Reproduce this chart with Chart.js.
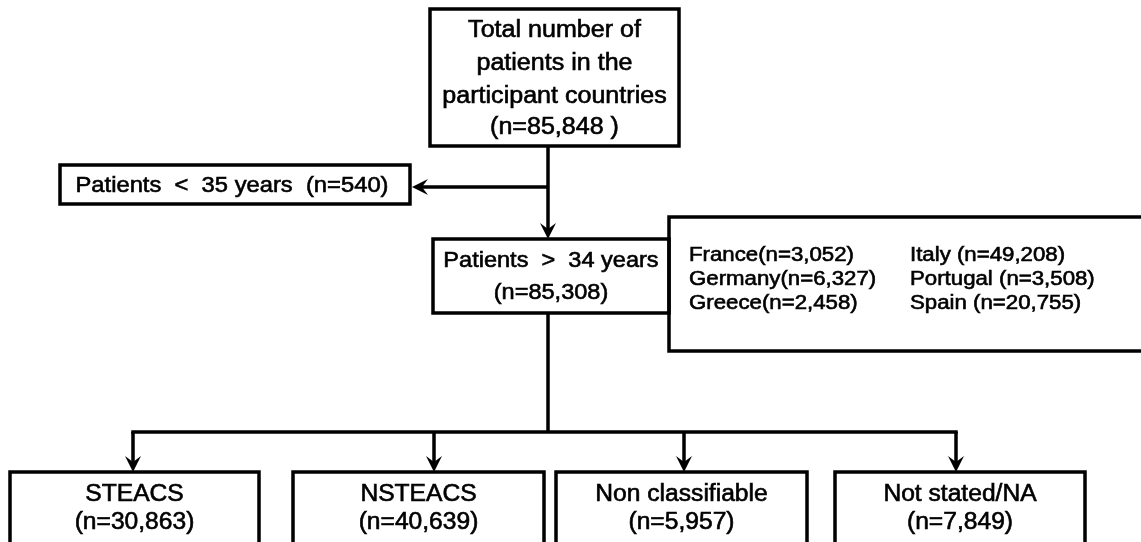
<!DOCTYPE html>
<html>
<head>
<meta charset="utf-8">
<script src="https://cdn.jsdelivr.net/npm/chart.js@4"></script>
<style>
  html, body { margin:0; padding:0; background:#fff; }
  #wrap { width:1141px; height:542px; }
</style>
</head>
<body>
<div id="wrap"><canvas id="flow"></canvas></div>
<script>
/* ---- data ---- */
const totalLabel   = ['Total number of', 'patients in the', 'participant countries'];
const totalN       = 85848;
const excludedN    = 540;
const includedN    = 85308;
const countries    = ['France', 'Germany', 'Greece', 'Italy', 'Portugal', 'Spain'];
const countryN     = [3052, 6327, 2458, 49208, 3508, 20755];
const groups       = ['STEACS', 'NSTEACS', 'Non classifiable', 'Not stated/NA'];
const groupN       = [30863, 40639, 5957, 7849];

/* ---- layout (in axis units, 1 unit = 1 px) ---- */
const topBox   = { x0:430, x1:679, y0:9,   y1:146 };
const exclBox  = { x0:60,  x1:410, y0:165, y1:204 };
const inclBox  = { x0:433, x1:669, y0:239, y1:313 };
const ctryBox  = { x0:669, x1:1150, y0:217, y1:351 };
const groupX   = [[10, 259], [293, 544], [556, 807], [835, 1085]];
const groupDrop = [133, 434, 684, 956];
const groupTop = 472, groupBottom = 570;
const stemX = 548, branchY = 187, splitY = 432;

const fmt = n => n.toLocaleString('en-US');
const FONT = '"Liberation Sans", Arial, sans-serif';

const flowPlugin = {
  id: 'flow',
  afterDraw(chart) {
    const { ctx, scales: { x, y } } = chart;
    const px = v => x.getPixelForValue(v), py = v => y.getPixelForValue(v);
    ctx.save();
    ctx.strokeStyle = '#000'; ctx.fillStyle = '#000';
    ctx.lineWidth = 3.5; ctx.lineCap = 'butt'; ctx.lineJoin = 'miter';

    const box = b => { ctx.strokeRect(px(b.x0), py(b.y0), px(b.x1) - px(b.x0), py(b.y1) - py(b.y0)); };
    const line = (x0, y0, x1, y1) => { ctx.beginPath(); ctx.moveTo(px(x0), py(y0)); ctx.lineTo(px(x1), py(y1)); ctx.stroke(); };
    const arrow = (tx, ty, dir) => {   // dir: 'down' | 'left'
      const X = px(tx), Y = py(ty);
      ctx.beginPath();
      if (dir === 'down') {
        ctx.moveTo(X, Y); ctx.lineTo(X - 8, Y - 16); ctx.lineTo(X, Y - 10); ctx.lineTo(X + 8, Y - 16);
      } else {
        ctx.moveTo(X, Y); ctx.lineTo(X + 16, Y - 8); ctx.lineTo(X + 10, Y); ctx.lineTo(X + 16, Y + 8);
      }
      ctx.closePath(); ctx.fill();
    };
    // reference glyphs are wider and darker than Liberation Sans: stretch a bit and add a hairline stroke
    const text = (s, cx, cy, size, sx, align) => {
      ctx.save();
      ctx.font = size + 'px ' + FONT;
      ctx.textAlign = align || 'center'; ctx.textBaseline = 'middle';
      ctx.translate(px(cx), py(cy));
      ctx.scale(sx, 1);
      ctx.lineWidth = 0.6;
      ctx.fillText(s, 0, 0);
      ctx.strokeText(s, 0, 0);
      ctx.restore();
    };

    // boxes
    box(topBox); box(exclBox); box(inclBox); box(ctryBox);
    groupX.forEach(g => box({ x0:g[0], x1:g[1], y0:groupTop, y1:groupBottom }));

    // connectors
    line(stemX, topBox.y1, stemX, inclBox.y0 - 6);
    arrow(stemX, inclBox.y0, 'down');
    line(stemX, branchY, exclBox.x1 + 6, branchY);
    arrow(exclBox.x1 + 2, branchY, 'left');
    line(stemX, inclBox.y1, stemX, splitY);
    line(groupDrop[0] - 1.75, splitY, groupDrop[3] + 1.75, splitY);
    groupDrop.forEach(d => { line(d, splitY, d, groupTop - 6); arrow(d, groupTop, 'down'); });

    // texts
    const tcx = (topBox.x0 + topBox.x1) / 2;
    totalLabel.forEach((s, i) => text(s, tcx, 31 + i * 33, 23, 1.09));
    text('(n=' + fmt(totalN) + ' )', tcx, 128, 23, 1.09);

    text('Patients  <  35 years  (n=' + fmt(excludedN) + ')', (exclBox.x0 + exclBox.x1) / 2 - 3, branchY - 1, 22, 1.08);

    const icx = (inclBox.x0 + inclBox.x1) / 2;
    text('Patients  >  34 years', icx, 261, 22, 1.07);
    text('(n=' + fmt(includedN) + ')', icx, 293, 22, 1.07);

    countries.forEach((c, i) => {
      const col = Math.floor(i / 3), row = i % 3;
      const s = col === 0 ? c + '(n=' + fmt(countryN[i]) + ')' : c + ' (n=' + fmt(countryN[i]) + ')';
      text(s, col === 0 ? 689 : 910, 256 + row * 24, 19.5, 1.14, 'left');
    });

    groups.forEach((g, i) => {
      const cx = (groupX[i][0] + groupX[i][1]) / 2;
      text(g, cx, 495, 23, 1.07);
      text('(n=' + fmt(groupN[i]) + ')', cx, 523, 23, 1.07);
    });
    ctx.restore();
  }
};

new Chart(document.getElementById('flow'), {
  type: 'scatter',
  data: { datasets: [{ data: [], pointRadius: 0 }] },
  options: {
    responsive: true, maintainAspectRatio: false, animation: false,
    layout: { padding: 0 },
    plugins: { legend: { display: false }, tooltip: { enabled: false } },
    scales: {
      x: { type: 'linear', min: 0, max: 1141, display: false },
      y: { type: 'linear', min: 0, max: 542, reverse: true, display: false }
    }
  },
  plugins: [flowPlugin]
});
</script>
</body>
</html>
